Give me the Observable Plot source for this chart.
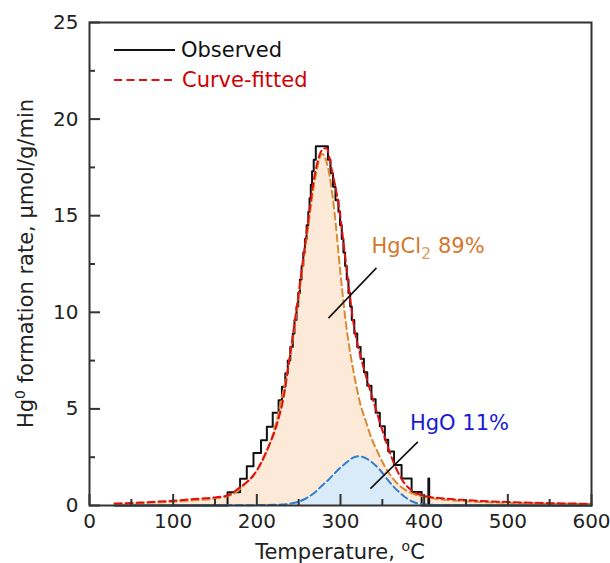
<!DOCTYPE html>
<html><head><meta charset="utf-8">
<script src="https://cdn.jsdelivr.net/npm/d3@7"></script>
<script src="https://cdn.jsdelivr.net/npm/@observablehq/plot@0.6"></script>
<style>body{margin:0;background:#fff;} svg{font-family:"DejaVu Sans",sans-serif;}</style>
</head><body><div id="chart"></div>
<script>
// Observed (step) data: temperature (°C) where each level starts, and the level
const obsT = [30,165,180,188,196,205,212,219,226,230,234,237,240,243,245,247.5,249.5,251.5,253.5,255.5,257.5,259.5,261.5,263,264.5,266,268,270.5,285,288,291,294,297.5,299.5,301.5,303.5,305.5,307.5,309.5,311.5,313.5,316.5,320,324,328,332,337,342,347,353,357,364,373,385,397,405,406,600];
const obsV = [0,0.69,1.39,2.03,2.72,3.38,4.07,4.8,5.45,6.15,6.85,7.5,8.2,8.9,9.6,10.3,11.0,11.7,12.4,13.1,13.8,14.5,15.2,15.9,16.6,17.3,17.9,18.6,17.9,17.2,16.5,15.8,15.2,14.5,13.8,13.1,12.4,11.7,11.0,10.3,9.6,8.9,8.2,7.6,6.9,6.2,5.5,4.8,4.1,3.4,2.8,2.1,1.4,0.7,0,1.4,0,0];
// Curve-fitted total
const fitT = [30,60,100,130,150,165,180,196,212,224,232,240,250,260,270,278,283,290,298,308,316,326,338,350,364,374,386,400,420,450,500,550,600];
const fitV = [0.1,0.15,0.25,0.35,0.42,0.52,0.95,1.56,2.86,4.2,5.6,7.9,11.0,14.3,17.3,18.4,18.5,17.3,15.5,12.0,9.3,7.4,5.6,3.9,2.17,1.3,0.75,0.5,0.38,0.28,0.18,0.12,0.09];
// HgCl2 component
const clT = [30,60,100,130,150,170,180,190,200,210,220,230,240,250,260,270,278,285,292,300,306,312,318,324,330,336,344,352,360,368,378,387,400,420,450,500,550,600];
const clV = [0.08,0.12,0.2,0.28,0.36,0.55,0.85,1.3,1.8,2.6,3.8,5.6,7.8,10.8,14.0,17.0,18.2,17.5,15.5,12.0,9.6,7.8,6.4,5.2,4.4,3.6,2.8,2.1,1.55,1.13,0.8,0.6,0.45,0.32,0.22,0.14,0.1,0.08];
// HgO component
const hgoT = [30,150,200,230,240,248,260,270,276,286,296,305,314,322,330,340,348,356,364,372,380,388,400,420,450,600];
const hgoV = [0,0.01,0.02,0.05,0.1,0.17,0.4,0.7,0.95,1.35,1.8,2.15,2.45,2.55,2.45,2.15,1.8,1.35,0.95,0.62,0.35,0.17,0.06,0.02,0.01,0];
// Ticks
const xTicks = [0,100,200,300,400,500,600];
const xMinor = [50,150,250,350,450,550];
const yTicks = [0,5,10,15,20,25];
const yMinor = [2.5,7.5,12.5,17.5,22.5];
// Annotations
const labelText = ["HgCl2 89%", "HgO 11%"];
const labelX = [337, 383];
const labelY = [13.4, 4.24];
const labelColor = ["#d4782a", "#1a1ad6"];
const leaderX1 = [285.6, 335.8], leaderY1 = [9.7, 0.87];
const leaderX2 = [343, 392.4], leaderY2 = [12.3, 3.29];

const zip = (T, V) => T.map((t, i) => ({t, v: V[i]}));
const obs = zip(obsT, obsV), fit = zip(fitT, fitV), cl = zip(clT, clV), hgo = zip(hgoT, hgoV);
const labels = labelText.map((s, i) => ({s, x: labelX[i], y: labelY[i], c: labelColor[i]}));
const leaders = leaderX1.map((d, i) => ({x1: d, y1: leaderY1[i], x2: leaderX2[i], y2: leaderY2[i]}));

const W = 610, H = 563, mL = 89, mR = 19, mT = 22, mB = 58;
const pw = W - mL - mR, ph = H - mT - mB;

const plot = Plot.plot({
  width: W, height: H,
  marginLeft: mL, marginRight: mR, marginTop: mT, marginBottom: mB,
  x: {domain: [0, 600]},
  y: {domain: [0, 25]},
  style: {fontFamily: "DejaVu Sans, sans-serif", fontSize: "20px", color: "#222", background: "#fff", overflow: "visible"},
  marks: [
    Plot.areaY(cl, {x: "t", y: "v", fill: "#fde9d8", curve: "monotone-x"}),
    Plot.areaY(hgo, {x: "t", y: "v", fill: "#d9eaf9", curve: "monotone-x"}),
    Plot.line(obs, {x: "t", y: "v", curve: "step-after", stroke: "#111", strokeWidth: 2}),
    Plot.line(hgo, {x: "t", y: "v", curve: "monotone-x", stroke: "#2f7fd0", strokeWidth: 2, strokeDasharray: "7,4"}),
    Plot.line(cl, {x: "t", y: "v", curve: "monotone-x", stroke: "#da8a30", strokeWidth: 2, strokeDasharray: "7,4"}),
    Plot.line(fit, {x: "t", y: "v", curve: "monotone-x", stroke: "#e01010", strokeWidth: 2, strokeDasharray: "7,4"}),
    Plot.link(leaders, {x1: "x1", y1: "y1", x2: "x2", y2: "y2", stroke: "#111", strokeWidth: 1.6}),
    Plot.text(labels, {x: "x", y: "y", text: "s", fill: "c", fontSize: 21, textAnchor: "start"}),
    Plot.tickX(xTicks, {x: d => d, insetTop: ph - 11, stroke: "#333", strokeWidth: 2}),
    Plot.tickX(xMinor, {x: d => d, insetTop: ph - 6, stroke: "#333", strokeWidth: 2}),
    Plot.tickY(yTicks, {y: d => d, insetRight: pw - 11, stroke: "#333", strokeWidth: 2}),
    Plot.tickY(yMinor, {y: d => d, insetRight: pw - 6, stroke: "#333", strokeWidth: 2}),
    Plot.axisX(xTicks, {tickSize: 0, tickPadding: 8, label: null}),
    Plot.axisY(yTicks, {tickSize: 0, tickPadding: 11, label: null}),
    Plot.frame({stroke: "#333", strokeWidth: 2})
  ]
});
document.getElementById("chart").appendChild(plot);

const svg = d3.select(plot);
// Subscript for HgCl2 label
svg.selectAll("text").filter(function() { return this.textContent === "HgCl2 89%"; }).each(function() {
  const t = d3.select(this);
  t.text(null);
  t.append("tspan").text("HgCl");
  t.append("tspan").attr("dy", 6).attr("font-size", 16).attr("fill", "#e0a060").text("2");
  t.append("tspan").attr("dy", -6).text(" 89%");
});
// Legend
const lg = svg.append("g").attr("font-family", "DejaVu Sans, sans-serif").attr("font-size", 21).attr("text-anchor", "start");
lg.append("line").attr("x1", 114).attr("x2", 175).attr("y1", 50).attr("y2", 50).attr("stroke", "#111").attr("stroke-width", 2);
lg.append("text").attr("x", 181).attr("y", 50).attr("dy", "0.35em").attr("fill", "#111").text("Observed");
lg.append("line").attr("x1", 114).attr("x2", 175).attr("y1", 80).attr("y2", 80).attr("stroke", "#e01010").attr("stroke-width", 2).attr("stroke-dasharray", "8,4.5");
lg.append("text").attr("x", 182).attr("y", 80).attr("dy", "0.35em").attr("fill", "#d00000").text("Curve-fitted");
// Axis titles
const yl = svg.append("text").attr("transform", `translate(33,${mT + ph / 2}) rotate(-90)`)
  .attr("text-anchor", "middle").attr("font-size", 21).attr("fill", "#222");
yl.append("tspan").text("Hg");
yl.append("tspan").attr("dy", -8).attr("font-size", 14).text("0");
yl.append("tspan").attr("dy", 8).text(" formation rate, \u03bcmol/g/min");
const xl = svg.append("text").attr("x", mL + pw / 2).attr("y", 559).attr("text-anchor", "middle").attr("font-size", 21).attr("fill", "#222");
xl.append("tspan").text("Temperature, ");
xl.append("tspan").attr("dy", -8).attr("font-size", 14).text("o");
xl.append("tspan").attr("dy", 8).text("C");
</script></body></html>
